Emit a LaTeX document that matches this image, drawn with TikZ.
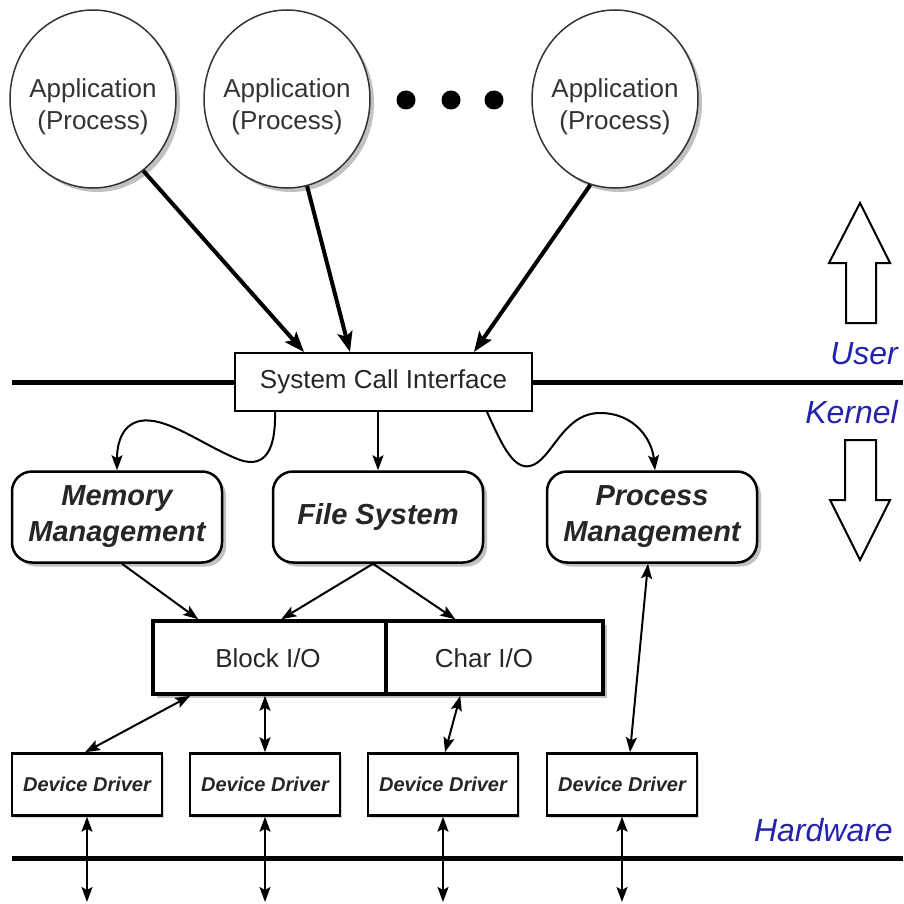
\documentclass[tikz,border=0pt]{standalone}
\usepackage{fontspec}
\setmainfont{Liberation Sans}
\usetikzlibrary{arrows.meta,shadows,shapes.geometric}
\definecolor{lblue}{RGB}{36,36,170}
\begin{document}
\begin{tikzpicture}[x=1pt,y=-1pt,
  shad/.style={drop shadow={shadow xshift=4pt,shadow yshift=-4pt,fill=black!40,opacity=.6}},
  app/.style={ellipse,draw=black!80,line width=1.5pt,fill=white,minimum width=166pt,minimum height=178pt,inner sep=0pt,shad},
  apptext/.style={align=center,inner sep=0pt,font=\fontsize{26}{32}\selectfont,text=black!80},
  sysbox/.style={rectangle,draw,line width=2pt,fill=white,minimum width=297pt,minimum height=58pt,inner sep=0pt,font=\fontsize{26}{32}\selectfont,text=black!85},
  module/.style={rectangle,rounded corners=20pt,draw,line width=2.5pt,fill=white,minimum width=210pt,minimum height=91pt,inner sep=0pt,align=center,font=\fontsize{29}{36}\selectfont\bfseries\itshape,text=black!85,shad},
  iobox/.style={rectangle,draw,line width=3.5pt,fill=white,minimum height=73pt,inner sep=0pt,shad},
  iotext/.style={font=\fontsize{26}{32}\selectfont,text=black!85,inner sep=0pt},
  drvbox/.style={rectangle,draw,line width=2.5pt,fill=white,minimum width=150pt,minimum height=62pt,inner sep=0pt,font=\fontsize{20}{24}\selectfont\bfseries\itshape,text=black!85,drop shadow={shadow xshift=2pt,shadow yshift=-2pt,fill=black!30,opacity=.5}},
  thickarr/.style={line width=4pt,-{Stealth[length=20pt,width=15pt,inset=4pt]}},
  thinarr/.style={line width=2pt,-{Stealth[length=15pt,width=11pt,inset=3pt]}},
  dblarr/.style={line width=2pt,{Stealth[length=15pt,width=11pt,inset=3pt]}-{Stealth[length=15pt,width=11pt,inset=3pt]}},
  layer/.style={line width=5pt},
  hollow/.style={draw,line width=2pt,fill=white,line join=miter},
  side/.style={anchor=east,inner sep=0pt,text=lblue,font=\fontsize{32}{38}\selectfont\itshape},
  dot/.style={circle,fill=black,minimum size=19pt,inner sep=0pt}
]
\useasboundingbox (0,0) rectangle (903,904);
\fill[white] (0,0) rectangle (903,904);

% applications
\node[app] (a1) at (93,99) {};
\node[app] (a2) at (287,99) {};
\node[app] (a3) at (615,99) {};
\node[apptext] (t1) at (93,107) {Application\\(Process)};
\node[apptext] (t2) at (287,107) {Application\\(Process)};
\node[apptext] (t3) at (615,107) {Application\\(Process)};
\node[dot] (d1) at (406,100) {};
\node[dot] (d2) at (451,100) {};
\node[dot] (d3) at (494,100) {};

% user/kernel line
\coordinate (ul) at (12,382);
\coordinate (ur) at (903,382);
\node[sysbox] (sci) at (383.5,382) {System Call Interface};
\draw[layer] (ul) -- (sci.west);
\draw[layer] (sci.east) -- (ur);

% arrows from applications
\draw[thickarr] (a1.-55) -- ([xshift=70pt]sci.north west);
\draw[thickarr] (a2.-77) -- ([xshift=116pt]sci.north west);
\draw[thickarr] (a3.-106) -- ([xshift=240pt]sci.north west);

% modules
\node[module] (mem) at (117,517) {Memory\\Management};
\node[module] (fs) at (378,517) {File System};
\node[module] (proc) at (652,517) {Process\\Management};

% sci to modules
\draw[thinarr] ([xshift=41pt]sci.south west) .. controls (276,455) and (262,470) .. (235,458)
  .. controls (200,443) and (165,416) .. (140,421) .. controls (121,425) and (117,445) .. (mem.north);
\draw[thinarr] (fs.north |- sci.south) -- (fs.north);
\draw[thinarr] ([xshift=253pt]sci.south west) .. controls (500,440) and (512,470) .. (530,466)
  .. controls (552,461) and (562,413) .. (600,413) .. controls (635,413) and (652,440) .. ([xshift=3pt]proc.north);

% I/O boxes
\node[iobox,minimum width=233pt] (blk) at (269.5,657.5) {};
\node[iobox,minimum width=217pt] (chr) at (494.5,657.5) {};
\node[iotext] (blkt) at (268,658) {Block I/O};
\node[iotext] (chrt) at (484,658) {Char I/O};

\draw[thinarr] ([xshift=5pt]mem.south) -- ([xshift=47pt]blk.north west);
\draw[thinarr] ([xshift=-5pt]fs.south) -- ([xshift=130pt]blk.north west);
\draw[thinarr] ([xshift=-5pt]fs.south) -- ([xshift=71pt]chr.north west);

% device drivers
\node[drvbox] (dd1) at (87,784.5) {Device Driver};
\node[drvbox] (dd2) at (265,784.5) {Device Driver};
\node[drvbox] (dd3) at (443,784.5) {Device Driver};
\node[drvbox] (dd4) at (622,784.5) {Device Driver};

\draw[dblarr] ([xshift=39pt]blk.south west) -- ([xshift=-2pt]dd1.north);
\draw[dblarr] (dd2.north |- blk.south) -- (dd2.north);
\draw[dblarr] ([xshift=76pt]chr.south west) -- ([xshift=2pt]dd3.north);
\draw[dblarr] ([xshift=-4pt]proc.south) -- ([xshift=8pt]dd4.north);

% hardware line
\coordinate (hl) at (12,858);
\coordinate (hr) at (903,858);
\draw[layer] (hl) -- (hr);
\coordinate (b1) at (87,902);
\coordinate (b2) at (265,902);
\coordinate (b3) at (443,902);
\coordinate (b4) at (622,902);
\draw[dblarr] (dd1.south) -- (b1);
\draw[dblarr] (dd2.south) -- (b2);
\draw[dblarr] (dd3.south) -- (b3);
\draw[dblarr] (dd4.south) -- (b4);

% hollow arrows
\draw[hollow] (846,323) -- (846,263) -- (829,263) -- (860,203) -- (890,263) -- (876,263) -- (876,323) -- cycle;
\draw[hollow] (845,440) -- (876,440) -- (876,500) -- (890,500) -- (860,560) -- (830,500) -- (845,500) -- cycle;

% labels
\node[side] (luser) at (898,354) {User};
\node[side] (lkern) at (898,412) {Kernel};
\node[side] (lhw) at (893,830) {Hardware};
\end{tikzpicture}
\end{document}
